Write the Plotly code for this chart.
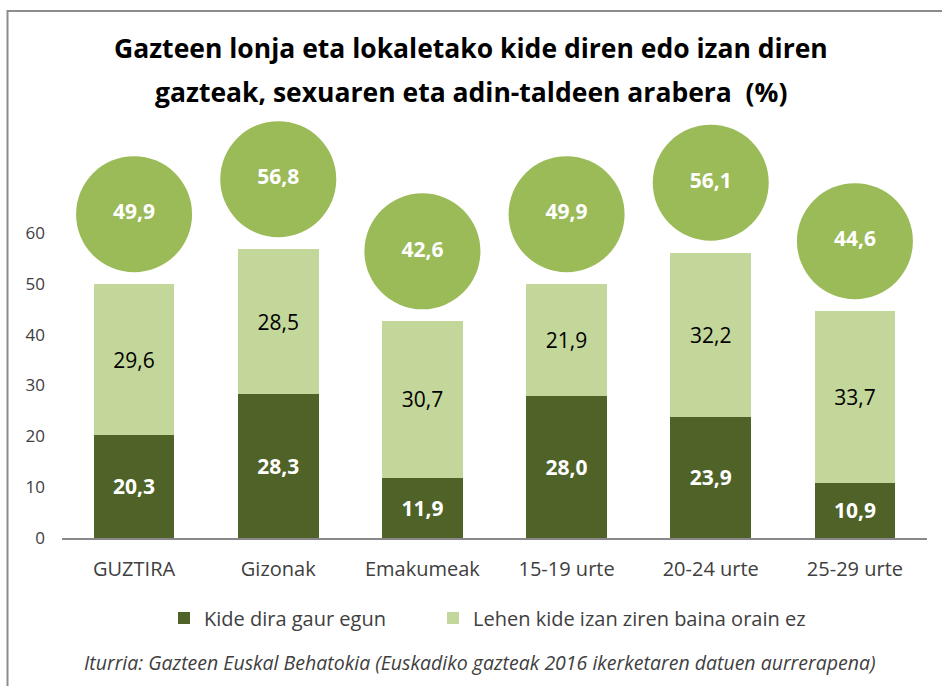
import plotly.graph_objects as go

categories = ["GUZTIRA", "Gizonak", "Emakumeak", "15-19 urte", "20-24 urte", "25-29 urte"]
kide_gaur = [20.3, 28.3, 11.9, 28.0, 23.9, 10.9]
lehen_kide = [29.6, 28.5, 30.7, 21.9, 32.2, 33.7]
guztira = [49.9, 56.8, 42.6, 49.9, 56.1, 44.6]
y_ticks = [0, 10, 20, 30, 40, 50, 60]

series_names = ["Kide dira gaur egun", "Lehen kide izan ziren baina orain ez"]
title_lines = ["Gazteen lonja eta lokaletako kide diren edo izan diren",
               "gazteak, sexuaren eta adin-taldeen arabera  (%)"]
source_text = "Iturria: Gazteen Euskal Behatokia (Euskadiko gazteak 2016 ikerketaren datuen aurrerapena)"

FONT = "'Open Sans', sans-serif"
DARK = "#4F6228"
LIGHT = "#C4D79B"
BUBBLE = "#9BBB59"
TXT = "#404040"

W, H = 942, 686
L, R, T, B = 62, 15, 140, 148
plot_h = H - T - B
bubble_offset = 13.8

def py(pixel_y):
    return (H - B - pixel_y) / plot_h

def px(pixel_x):
    return (pixel_x - L) / (W - L - R)

fig = go.Figure()
fig.add_trace(go.Bar(
    x=categories, y=kide_gaur, name=series_names[0], legend="legend",
    marker=dict(color=DARK, line=dict(width=0)),
    texttemplate="<b>%{y:.1f}</b>", textposition="inside", insidetextanchor="middle",
    textfont=dict(color="white", size=21, family=FONT), textangle=0,
))
fig.add_trace(go.Bar(
    x=categories, y=lehen_kide, name=series_names[1], legend="legend2",
    marker=dict(color=LIGHT, line=dict(width=0)),
    texttemplate="%{y:.1f}", textposition="inside", insidetextanchor="middle",
    textfont=dict(color="black", size=21, family=FONT), textangle=0,
))
fig.add_trace(go.Scatter(
    x=categories, y=[g + bubble_offset for g in guztira], mode="markers+text",
    marker=dict(size=116, color=BUBBLE, line=dict(width=0)),
    text=[f"<b>{g:.1f}</b>".replace(".", ",") for g in guztira],
    textposition="middle center",
    textfont=dict(color="white", size=21, family=FONT),
    showlegend=False, cliponaxis=False, hoverinfo="skip",
))

legend_common = dict(orientation="h", xanchor="left", yanchor="middle", y=py(618),
                     font=dict(size=20, color=TXT, family=FONT),
                     bgcolor="rgba(0,0,0,0)", borderwidth=0)

fig.update_layout(
    width=W, height=H,
    margin=dict(l=L, r=R, t=T, b=B, pad=0),
    paper_bgcolor="white", plot_bgcolor="white",
    barmode="stack", bargap=0.44,
    separators=",.",
    font=dict(family=FONT, color=TXT),
    showlegend=True,
    legend=dict(x=px(164), **legend_common),
    legend2=dict(x=px(433), **legend_common),
    xaxis=dict(range=[-0.5, len(categories) - 0.5], showgrid=False, showline=True,
               linecolor="#888888", linewidth=1.5,
               ticks="", tickfont=dict(size=20, color=TXT), ticklabelstandoff=12,
               fixedrange=True),
    yaxis=dict(range=[0, (H - T - B) / 5.083], showgrid=False, showline=False, zeroline=False,
               tickvals=y_ticks, ticktext=[str(v) for v in y_ticks],
               tickfont=dict(size=17, color=TXT), ticklabelstandoff=16, ticks=""),
)

for i, line in enumerate(title_lines):
    fig.add_annotation(text=f"<b>{line}</b>", xref="paper", yref="paper",
                       x=px(471), y=py([48, 92][i]), xanchor="center", yanchor="middle",
                       showarrow=False, font=dict(size=26.5, color="black", family=FONT))

fig.add_annotation(text=f"<i>{source_text}</i>", xref="paper", yref="paper",
                   x=px(480), y=py(662), xanchor="center", yanchor="middle",
                   showarrow=False, font=dict(size=19.5, color=TXT, family=FONT))

fig.add_shape(type="path", xref="paper", yref="paper",
              path=f"M {px(7.5)} {py(700)} L {px(7.5)} {py(11)} L {px(960)} {py(11)}",
              line=dict(color="#8C8C8C", width=2))

fig.write_html("out.html", config={"displayModeBar": False},
               post_script="document.body.style.margin='0';document.body.style.overflow='hidden';")
